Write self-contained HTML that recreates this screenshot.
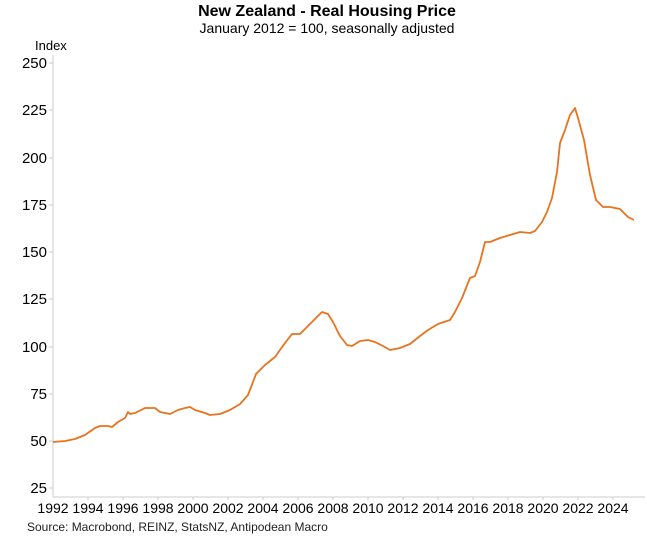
<!DOCTYPE html>
<html><head><style>body{margin:0;background:#fff}</style></head><body>
<svg width="647" height="538" xmlns="http://www.w3.org/2000/svg" font-family="Liberation Sans, Arial, sans-serif">
<rect width="647" height="538" fill="#fff"/>
<text x="327" y="16" text-anchor="middle" font-size="16" font-weight="bold" fill="#000">New Zealand - Real Housing Price</text>
<text x="327" y="33" text-anchor="middle" font-size="14" fill="#000">January 2012 = 100, seasonally adjusted</text>
<text x="35" y="50" font-size="13" fill="#000">Index</text>
<g font-size="15" fill="#000" text-anchor="end">
<text x="47" y="68">250</text><text x="47" y="115">225</text><text x="47" y="163">200</text><text x="47" y="210">175</text><text x="47" y="257">150</text><text x="47" y="304">125</text><text x="47" y="352">100</text><text x="47" y="399">75</text><text x="47" y="446">50</text><text x="47" y="493">25</text>
</g>
<g stroke="#ccc" stroke-width="1">
<line x1="53" y1="55" x2="53" y2="497"/><line x1="53" y1="497" x2="645" y2="497"/>
<line x1="49" y1="63" x2="53" y2="63"/><line x1="49" y1="110" x2="53" y2="110"/><line x1="49" y1="158" x2="53" y2="158"/><line x1="49" y1="205" x2="53" y2="205"/><line x1="49" y1="252" x2="53" y2="252"/><line x1="49" y1="299" x2="53" y2="299"/><line x1="49" y1="347" x2="53" y2="347"/><line x1="49" y1="394" x2="53" y2="394"/><line x1="49" y1="441" x2="53" y2="441"/><line x1="49" y1="488" x2="53" y2="488"/>
</g>
<g font-size="14" fill="#000" text-anchor="middle">
<text x="53" y="513">1992</text><text x="88" y="513">1994</text><text x="123" y="513">1996</text><text x="158" y="513">1998</text><text x="193" y="513">2000</text><text x="228" y="513">2002</text><text x="263" y="513">2004</text><text x="298" y="513">2006</text><text x="333" y="513">2008</text><text x="368" y="513">2010</text><text x="403" y="513">2012</text><text x="438" y="513">2014</text><text x="473" y="513">2016</text><text x="508" y="513">2018</text><text x="543" y="513">2020</text><text x="578" y="513">2022</text><text x="613" y="513">2024</text>
</g>
<g stroke="#ccc"><line x1="88" y1="497" x2="88" y2="500"/><line x1="123" y1="497" x2="123" y2="500"/><line x1="158" y1="497" x2="158" y2="500"/><line x1="193" y1="497" x2="193" y2="500"/><line x1="228" y1="497" x2="228" y2="500"/><line x1="263" y1="497" x2="263" y2="500"/><line x1="298" y1="497" x2="298" y2="500"/><line x1="333" y1="497" x2="333" y2="500"/><line x1="368" y1="497" x2="368" y2="500"/><line x1="403" y1="497" x2="403" y2="500"/><line x1="438" y1="497" x2="438" y2="500"/><line x1="473" y1="497" x2="473" y2="500"/><line x1="508" y1="497" x2="508" y2="500"/><line x1="543" y1="497" x2="543" y2="500"/><line x1="578" y1="497" x2="578" y2="500"/><line x1="613" y1="497" x2="613" y2="500"/></g>
<polyline fill="none" stroke="#e8731e" stroke-width="1.8" stroke-linejoin="round" points="53,442 65,441 75,439 85,435 95,428 100,426 108,426 112,427 118,422 125,418 128,412 130,414 135,413 145,408 150,408 155,408 160,412 170,414 178,410 185,408 190,407 195,410 205,413 210,415 220,414 230,410 240,404 248,395 256,374 265,365 275,357 280,350 285,343 292,334 300,334 310,324 318,316 322,312 328,314 333,322 340,336 347,345 352,346 360,341 368,340 375,342 383,346 390,350 400,348 410,344 420,336 428,330 438,324 450,320 455,312 462,298 470,278 475,276 480,262 485,242 490,242 500,238 510,235 520,232 530,233 535,231 542,222 547,212 552,198 557,172 560,143 565,130 570,115 575,108 578,118 584,140 590,175 596,200 603,207 610,207 620,209 628,217 634,220"/>
<text x="27" y="531" font-size="12" fill="#222">Source: Macrobond, REINZ, StatsNZ, Antipodean Macro</text>
</svg>
</body></html>
